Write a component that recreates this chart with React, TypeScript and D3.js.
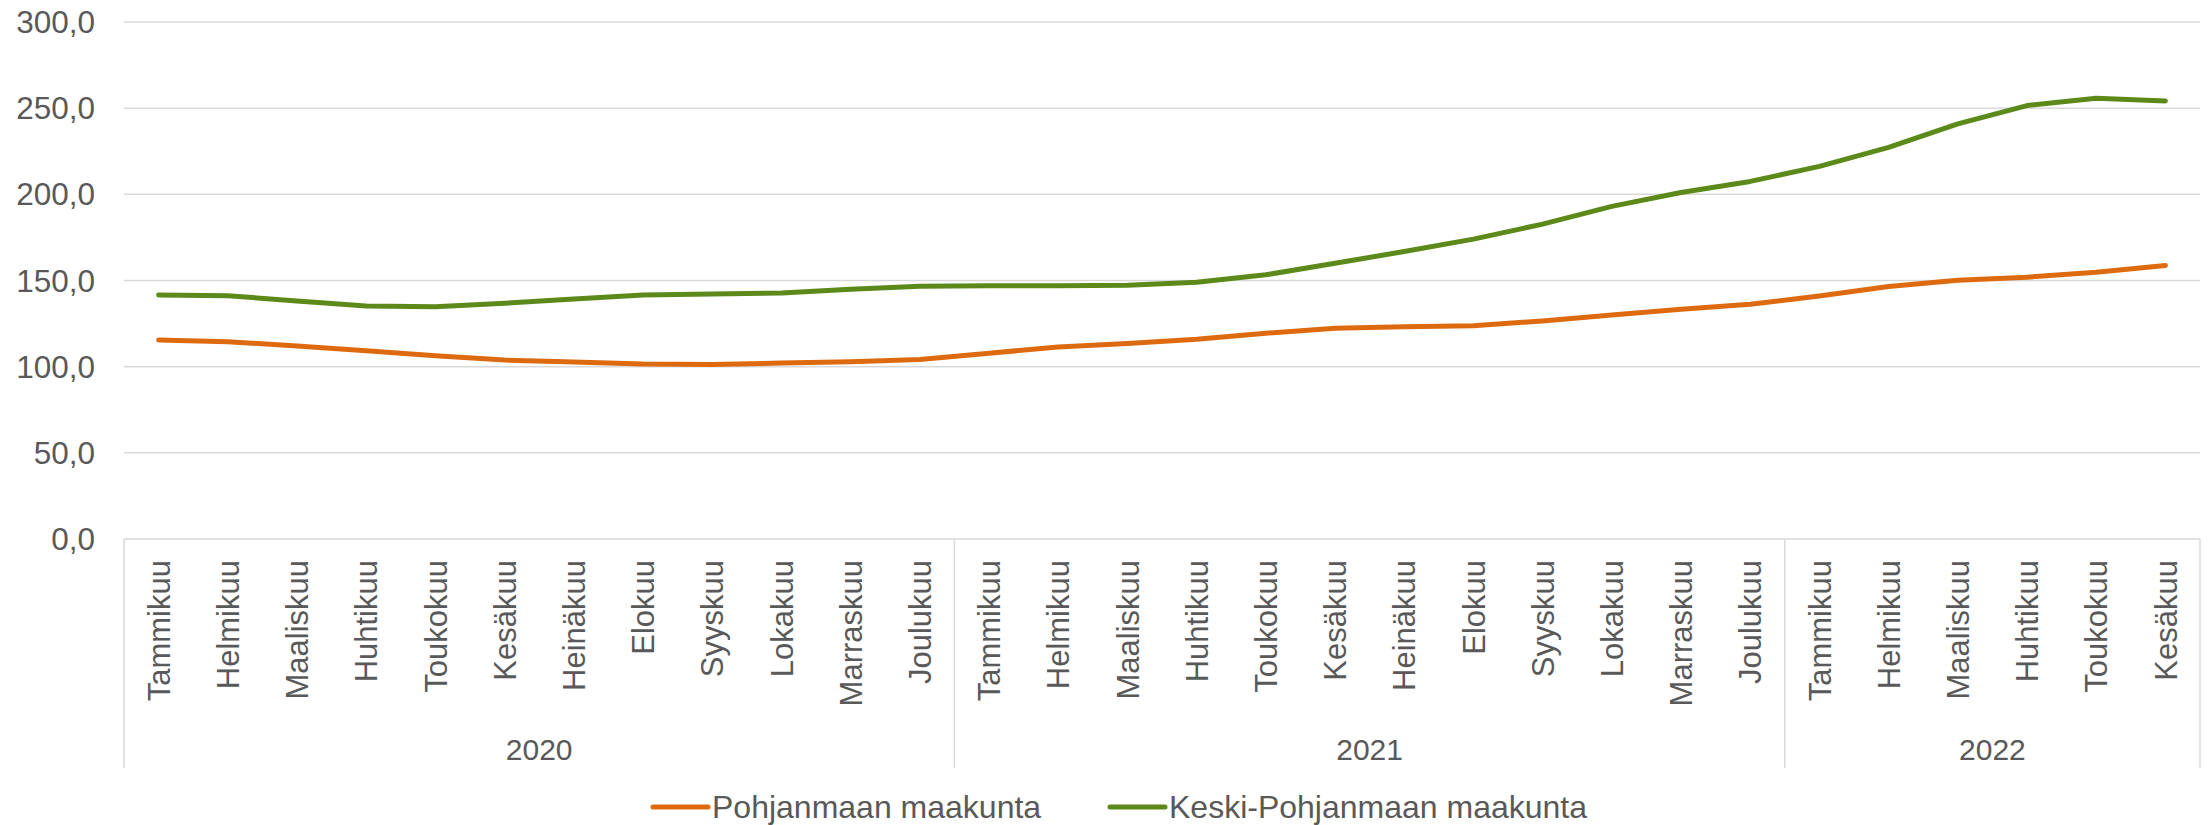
import React, { useEffect, useRef } from 'react';
import * as d3 from 'd3';

const months = [
  'Tammikuu', 'Helmikuu', 'Maaliskuu', 'Huhtikuu', 'Toukokuu', 'Kesäkuu',
  'Heinäkuu', 'Elokuu', 'Syyskuu', 'Lokakuu', 'Marraskuu', 'Joulukuu',
];
const years = ['2020', '2021', '2022'];
const monthsPerYear = [12, 12, 6];

const pohjanmaa = [
  115.5, 114.5, 112.0, 109.3, 106.4, 103.8, 102.7, 101.5, 101.3, 102.1, 102.9, 104.2,
  107.8, 111.4, 113.5, 115.9, 119.4, 122.3, 123.2, 123.8, 126.5, 130.0, 133.3, 136.2,
  141.0, 146.5, 150.2, 151.9, 154.8, 158.7,
];
const keskiPohjanmaa = [
  141.6, 141.2, 138.1, 135.2, 134.8, 136.8, 139.3, 141.6, 142.2, 142.8, 144.9, 146.7,
  146.9, 146.9, 147.3, 149.0, 153.3, 160.0, 166.8, 174.0, 182.7, 193.0, 201.1, 207.5,
  216.2, 227.3, 240.9, 251.5, 255.8, 254.2,
];
const yTicks = [0, 50, 100, 150, 200, 250, 300];

const seriesNames = ['Pohjanmaan maakunta', 'Keski-Pohjanmaan maakunta'];
const seriesColors = ['#DE6A10', '#5B8A1A'];

export default function App() {
  const svgRef = useRef<SVGSVGElement>(null);

  useEffect(() => {
    if (!svgRef.current) return;
    const width = 2211;
    const height = 825;
    const margin = { top: 22, right: 11, bottom: 286, left: 124 };
    const textColor = '#595959';
    const gridColor = '#D9D9D9';
    const font = "'Liberation Sans', Arial, sans-serif";

    const svg = d3.select(svgRef.current);
    svg.selectAll('*').remove();
    svg.attr('width', width).attr('height', height);

    // one category per month, keyed by index
    const keys = d3.range(pohjanmaa.length).map(String);
    const labels: string[] = [];
    monthsPerYear.forEach(n => { for (let i = 0; i < n; i++) labels.push(months[i]); });

    const x = d3.scaleBand()
      .domain(keys)
      .range([margin.left, width - margin.right]);
    const y = d3.scaleLinear()
      .domain([0, 300])
      .range([height - margin.bottom, margin.top]);

    const bottom = y(0);

    // gridlines
    svg.append('g')
      .selectAll('line')
      .data(yTicks)
      .enter()
      .append('line')
      .attr('x1', margin.left)
      .attr('x2', width - margin.right)
      .attr('y1', d => y(d))
      .attr('y2', d => y(d))
      .attr('stroke', gridColor)
      .attr('stroke-width', 1.5);

    // y labels
    svg.append('g')
      .selectAll('text')
      .data(yTicks)
      .enter()
      .append('text')
      .attr('x', 95)
      .attr('y', d => y(d) + 11)
      .attr('text-anchor', 'end')
      .style('font-family', font)
      .style('font-size', '31.5px')
      .style('fill', textColor)
      .text(d => d3.format('.1f')(d).replace('.', ','));

    // year separators
    const bounds: number[] = [0];
    monthsPerYear.forEach(n => bounds.push(bounds[bounds.length - 1] + n));
    const bx = (i: number) => i >= keys.length ? x.range()[1] : (x(String(i)) as number);

    svg.append('g')
      .selectAll('line')
      .data(bounds)
      .enter()
      .append('line')
      .attr('x1', d => bx(d))
      .attr('x2', d => bx(d))
      .attr('y1', bottom)
      .attr('y2', 768)
      .attr('stroke', gridColor)
      .attr('stroke-width', 1.5);

    // month labels
    svg.append('g')
      .selectAll('text')
      .data(keys)
      .enter()
      .append('text')
      .attr('transform', d => `translate(${(x(d) as number) + x.bandwidth() / 2},560) rotate(-90)`)
      .attr('dy', '0.36em')
      .attr('text-anchor', 'end')
      .style('font-family', font)
      .style('font-size', '31px')
      .style('fill', textColor)
      .text((d, i) => labels[i]);

    // year labels
    svg.append('g')
      .selectAll('text')
      .data(years)
      .enter()
      .append('text')
      .attr('x', (d, i) => (bx(bounds[i]) + bx(bounds[i + 1])) / 2)
      .attr('y', 760)
      .attr('text-anchor', 'middle')
      .style('font-family', font)
      .style('font-size', '30px')
      .style('fill', textColor)
      .text(d => d);

    // lines
    const line = d3.line<number>()
      .x((d, i) => (x(String(i)) as number) + x.bandwidth() / 2)
      .y(d => y(d));

    [pohjanmaa, keskiPohjanmaa].forEach((s, i) => {
      svg.append('path')
        .datum(s)
        .attr('d', line)
        .attr('fill', 'none')
        .attr('stroke', seriesColors[i])
        .attr('stroke-width', 5)
        .attr('stroke-linecap', 'round')
        .attr('stroke-linejoin', 'round');
    });

    // legend
    const legendX = [653, 1110];
    const legend = svg.append('g')
      .selectAll('g')
      .data(seriesNames)
      .enter()
      .append('g')
      .attr('transform', (d, i) => `translate(${legendX[i]},807)`);
    legend.append('line')
      .attr('x1', 0)
      .attr('x2', 55)
      .attr('stroke', (d, i) => seriesColors[i])
      .attr('stroke-width', 5)
      .attr('stroke-linecap', 'round');
    legend.append('text')
      .attr('x', 59)
      .attr('y', 11)
      .style('font-family', font)
      .style('font-size', '32px')
      .style('fill', textColor)
      .text(d => d);
  }, []);

  return (
    <div style={{ position: 'absolute', left: 0, top: 0, background: '#fff' }}>
      <svg ref={svgRef}></svg>
    </div>
  );
}
